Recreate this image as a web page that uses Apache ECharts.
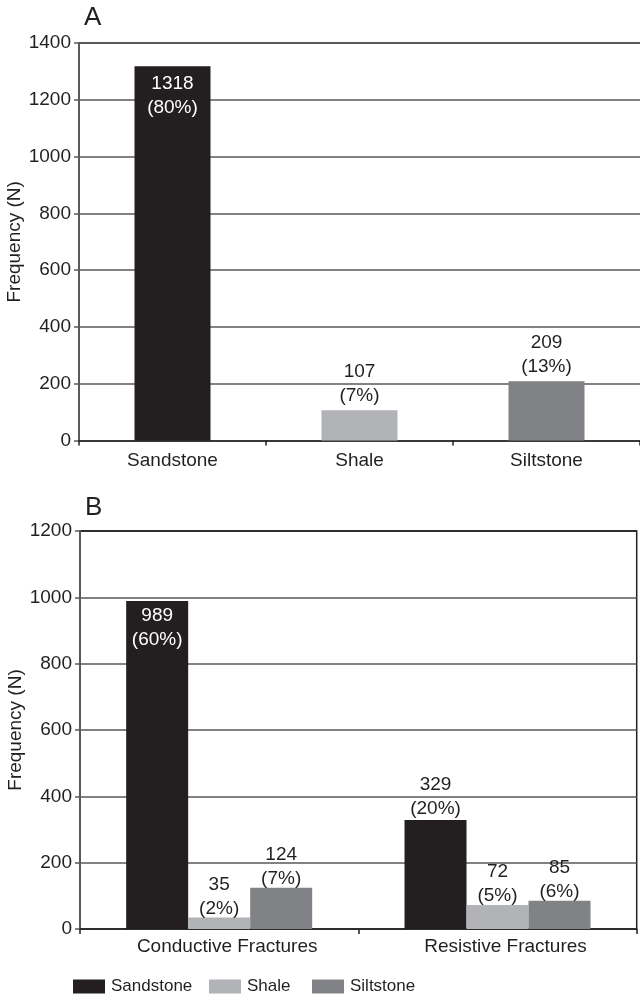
<!DOCTYPE html>
<html>
<head>
<meta charset="utf-8">
<script src="https://cdn.jsdelivr.net/npm/echarts@6/dist/echarts.min.js"></script>
<style>
  html, body { margin: 0; padding: 0; background: #ffffff; }
  #chart { width: 640px; height: 1000px; }
</style>
</head>
<body>
<div id="chart"></div>
<script>
// Fracture counts by lithology
const lithologies = ['Sandstone', 'Shale', 'Siltstone'];
const countsA = [1318, 107, 209];
const percentA = [80, 7, 13];

// Fracture counts split by fracture type
const fractureTypes = ['Conductive Fractures', 'Resistive Fractures'];
const sandstoneB = [989, 329];
const shaleB = [35, 72];
const siltstoneB = [124, 85];
const sandstonePctB = [60, 20];
const shalePctB = [2, 5];
const siltstonePctB = [7, 6];

// Value axis ranges
const yMaxA = 1400;
const yMaxB = 1200;
const yStep = 200;

const FONT = '"Liberation Sans", Arial, Helvetica, sans-serif';
const INK = '#231f20';
const GRID_GRAY = '#58595b';
const lithColors = ['#231f20', '#b1b3b6', '#808285'];

const valueLabel = pct => p => p.value + '\n(' + pct[p.dataIndex] + '%)';

const baseLabel = {
  show: true,
  fontFamily: FONT,
  fontSize: 19,
  lineHeight: 24,
  color: INK
};

function valueAxis(gridIndex, max, topColor) {
  const n = max / yStep;
  const colors = [];
  for (let i = 0; i < n; i++) colors.push(GRID_GRAY);
  colors.push(topColor);
  return {
    type: 'value',
    gridIndex: gridIndex,
    min: 0,
    max: max,
    interval: yStep,
    name: 'Frequency (N)',
    nameLocation: 'middle',
    nameGap: 55,
    nameMoveOverlap: false,
    nameTextStyle: { fontFamily: FONT, fontSize: 19, color: INK },
    axisLine: { show: true, lineStyle: { color: GRID_GRAY, width: 2 } },
    axisTick: { show: true, length: 5, lineStyle: { color: GRID_GRAY, width: 1.5 } },
    axisLabel: { fontFamily: FONT, fontSize: 19, color: INK, margin: 8, formatter: v => String(v) },
    splitLine: { show: true, lineStyle: { color: colors, width: 1.5 } }
  };
}

function categoryAxis(gridIndex, data, margin, padLeft) {
  return {
    type: 'category',
    gridIndex: gridIndex,
    data: data,
    axisLine: { show: true, lineStyle: { color: INK, width: 1.5 } },
    axisTick: { show: true, length: 5, lineStyle: { color: INK, width: 1.5 } },
    axisLabel: { fontFamily: FONT, fontSize: 19, color: INK, margin: margin, interval: 0,
                 padding: [0, 0, 0, padLeft] },
    splitLine: { show: false }
  };
}

function legendItem(name, left) {
  return {
    data: [name],
    left: left,
    top: 978,
    padding: 0,
    icon: 'rect',
    itemWidth: 32,
    itemHeight: 14,
    itemGap: 0,
    selectedMode: false,
    textStyle: { fontFamily: FONT, fontSize: 17, color: INK, padding: [0, 0, 0, 1] }
  };
}

const chart = echarts.init(document.getElementById('chart'), null, { renderer: 'canvas' });

chart.setOption({
  animation: false,
  backgroundColor: '#ffffff',
  title: [
    { text: 'A', left: 84, top: 5, padding: 0,
      textStyle: { fontFamily: FONT, fontSize: 26, fontWeight: 'normal', color: INK } },
    { text: 'B', left: 85, top: 495, padding: 0,
      textStyle: { fontFamily: FONT, fontSize: 26, fontWeight: 'normal', color: INK } }
  ],
  legend: [
    legendItem('Sandstone', 73),
    legendItem('Shale', 209),
    legendItem('Siltstone', 312)
  ],
  grid: [
    { left: 79, top: 43, width: 561, height: 397.6, containLabel: false, outerBoundsMode: 'none' },
    { left: 80, top: 531, width: 556.7, height: 398, containLabel: false, outerBoundsMode: 'none',
      show: true, borderColor: INK, borderWidth: 1.5, backgroundColor: 'transparent' }
  ],
  xAxis: [
    categoryAxis(0, lithologies, 11, 0),
    categoryAxis(1, fractureTypes, 8, 16)
  ],
  yAxis: [
    valueAxis(0, yMaxA, INK),
    valueAxis(1, yMaxB, INK)
  ],
  series: [
    {
      name: 'Lithology',
      type: 'bar',
      xAxisIndex: 0,
      yAxisIndex: 0,
      barWidth: 76,
      data: countsA.map((v, i) => ({
        value: v,
        itemStyle: { color: lithColors[i] },
        label: i === 0
          ? { position: 'insideTop', distance: 5, color: '#ffffff' }
          : { position: 'top', distance: 2 }
      })),
      label: Object.assign({}, baseLabel, { formatter: valueLabel(percentA) })
    },
    {
      name: 'Sandstone',
      type: 'bar',
      xAxisIndex: 1,
      yAxisIndex: 1,
      barWidth: 62,
      barGap: '0%',
      itemStyle: { color: lithColors[0] },
      data: sandstoneB.map((v, i) => ({
        value: v,
        label: i === 0
          ? { position: 'insideTop', distance: 3, color: '#ffffff' }
          : { position: 'top', distance: -1 }
      })),
      label: Object.assign({}, baseLabel, { formatter: valueLabel(sandstonePctB) })
    },
    {
      name: 'Shale',
      type: 'bar',
      xAxisIndex: 1,
      yAxisIndex: 1,
      barWidth: 62,
      barGap: '0%',
      itemStyle: { color: lithColors[1] },
      data: shaleB,
      label: Object.assign({}, baseLabel, { position: 'top', distance: -3, formatter: valueLabel(shalePctB) })
    },
    {
      name: 'Siltstone',
      type: 'bar',
      xAxisIndex: 1,
      yAxisIndex: 1,
      barWidth: 62,
      barGap: '0%',
      itemStyle: { color: lithColors[2] },
      data: siltstoneB,
      label: Object.assign({}, baseLabel, { position: 'top', distance: -3, formatter: valueLabel(siltstonePctB) })
    }
  ]
});
</script>
</body>
</html>
